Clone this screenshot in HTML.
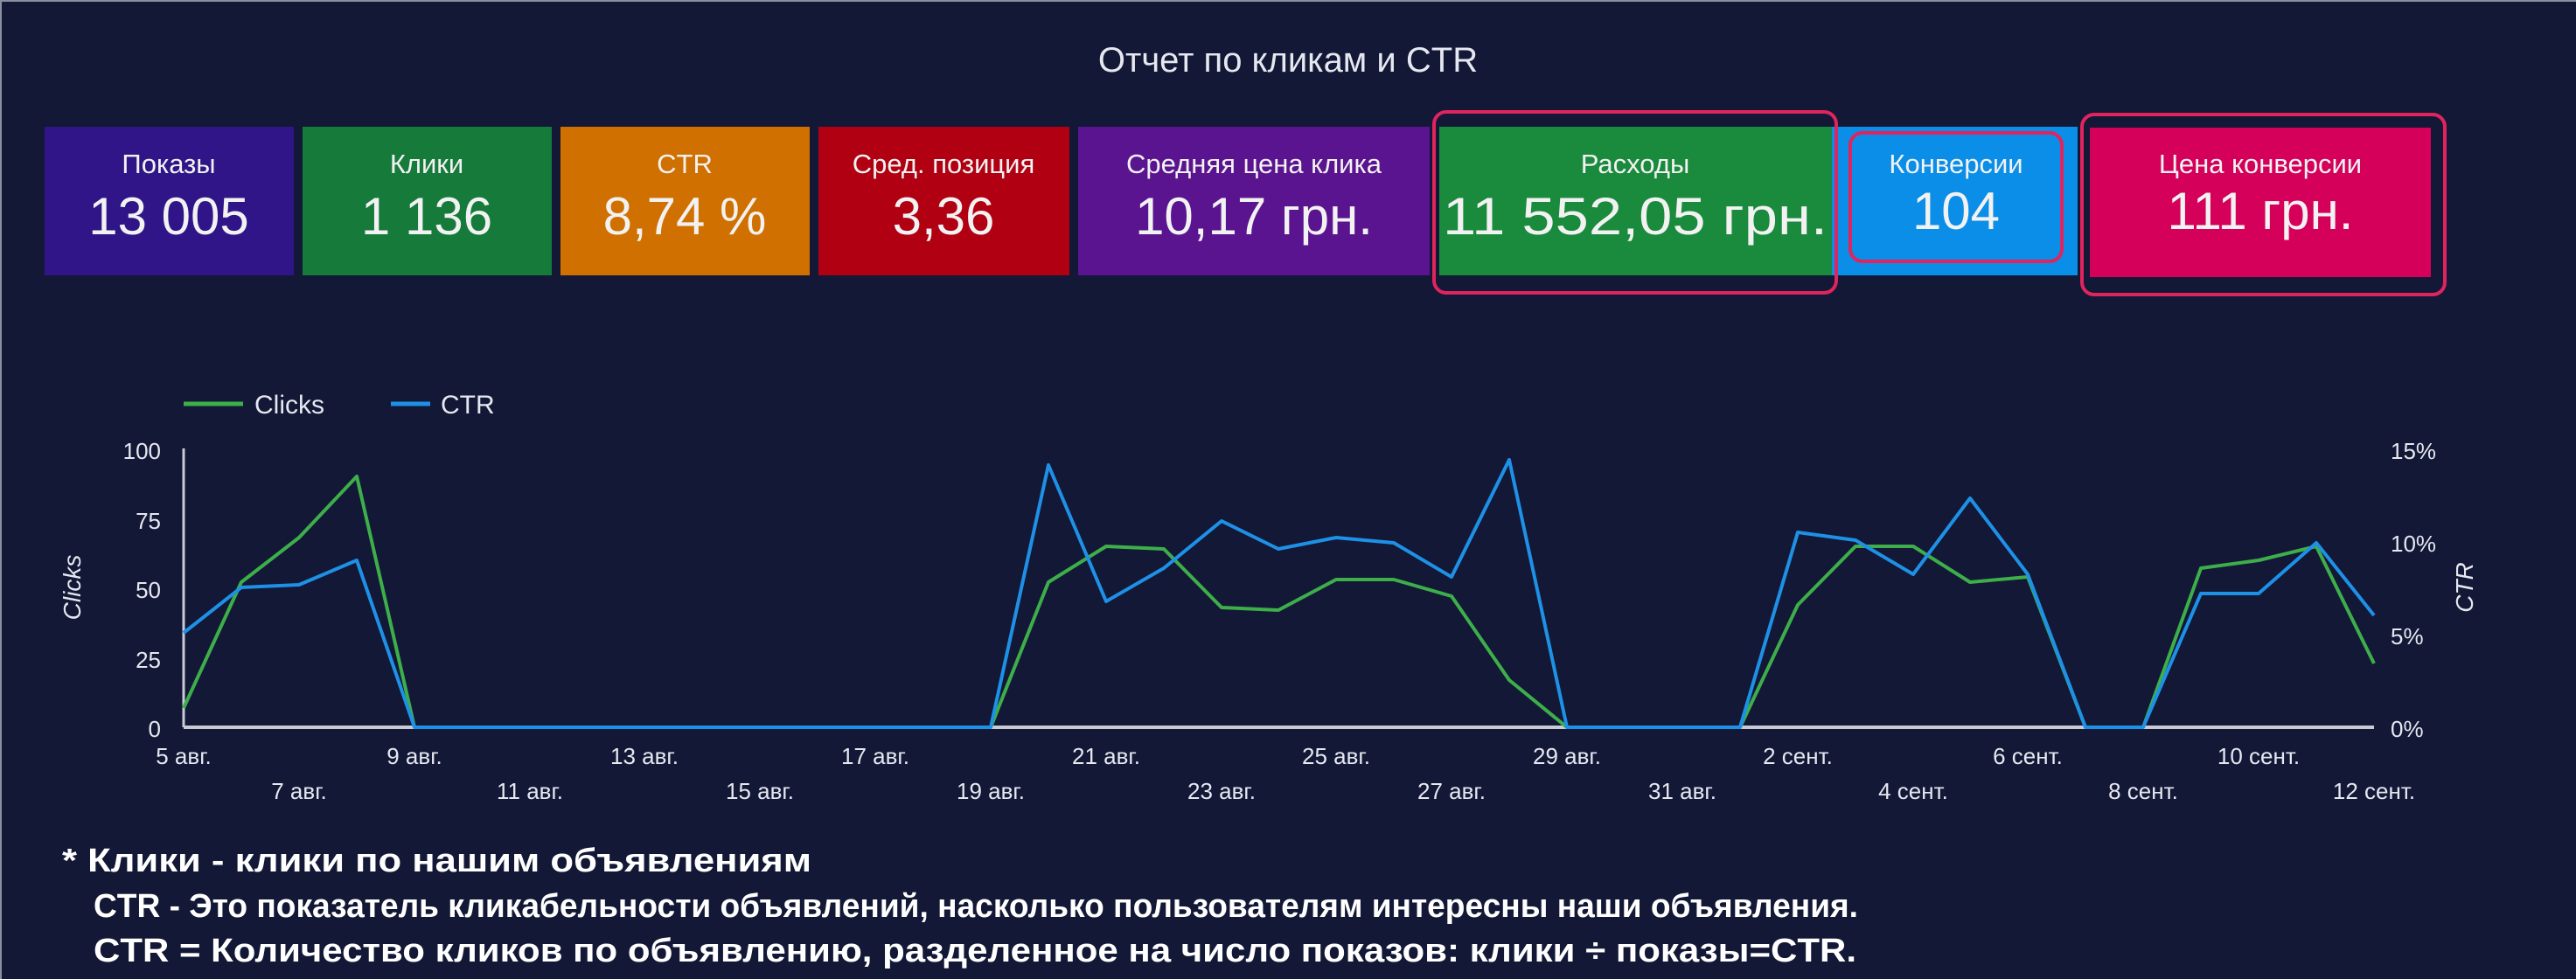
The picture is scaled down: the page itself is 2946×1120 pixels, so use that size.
<!DOCTYPE html>
<html><head><meta charset="utf-8"><style>html,body{margin:0;padding:0;background:#121836;}svg{display:block}</style></head>
<body>
<svg width="2946" height="1120" viewBox="0 0 2946 1120" xmlns="http://www.w3.org/2000/svg" font-family="Liberation Sans, sans-serif">
<rect width="2946" height="1120" fill="#121836"/>
<rect x="0" y="0" width="2946" height="2" fill="#8a8fa0"/>
<rect x="0" y="0" width="2" height="1120" fill="#8a8fa0"/>
<text x="1473" y="82" fill="#e6e8f0" font-size="40" text-anchor="middle">Отчет по кликам и CTR</text>
<g text-anchor="middle" fill="#f2f2f2">
<rect x="51" y="145" width="285" height="170" fill="#2f1587"/>
<text x="193" y="198" font-size="31">Показы</text><text x="193" y="268" font-size="60">13 005</text>
<rect x="346" y="145" width="285" height="170" fill="#157a3a"/>
<text x="488" y="198" font-size="31">Клики</text><text x="488" y="268" font-size="60">1 136</text>
<rect x="641" y="145" width="285" height="170" fill="#d07000"/>
<text x="783" y="198" font-size="31">CTR</text><text x="783" y="268" font-size="60">8,74 %</text>
<rect x="936" y="145" width="287" height="170" fill="#b00012"/>
<text x="1079" y="198" font-size="31">Сред. позиция</text><text x="1079" y="268" font-size="60">3,36</text>
<rect x="1233" y="145" width="402" height="170" fill="#5a1490"/>
<text x="1434" y="198" font-size="31">Средняя цена клика</text><text x="1434" y="268" font-size="60">10,17 грн.</text>
<rect x="1646" y="145" width="449" height="170" fill="#1a8a3c"/>
<text x="1870" y="198" font-size="31">Расходы</text><text x="1870" y="268" font-size="60" textLength="440" lengthAdjust="spacingAndGlyphs">11 552,05 грн.</text>
<rect x="2095" y="145" width="281" height="170" fill="#0a8ee8"/>
<text x="2237" y="198" font-size="31">Конверсии</text><text x="2237" y="262" font-size="60">104</text>
<rect x="2390" y="146" width="390" height="171" fill="#d4005a"/>
<text x="2585" y="198" font-size="31">Цена конверсии</text><text x="2585" y="262" font-size="60">111 грн.</text>
</g>
<g fill="none" stroke="#e0245e" stroke-width="4">
<rect x="1640" y="128" width="460" height="207" rx="14"/>
<rect x="2116" y="152" width="242" height="147" rx="14"/>
<rect x="2381" y="131" width="415" height="206" rx="14"/>
</g>
<line x1="210" y1="462" x2="278" y2="462" stroke="#3dae4a" stroke-width="5"/>
<text x="291" y="473" fill="#e6e8f0" font-size="30">Clicks</text>
<line x1="447" y1="462" x2="492" y2="462" stroke="#1e90e6" stroke-width="5"/>
<text x="504" y="473" fill="#e6e8f0" font-size="30">CTR</text>
<line x1="210" y1="513" x2="210" y2="832" stroke="#c8cad4" stroke-width="3"/>
<line x1="210" y1="832" x2="2715" y2="832" stroke="#c8cad4" stroke-width="4"/>
<g fill="#e6e8f0" font-size="26" text-anchor="end">
<text x="184" y="525">100</text><text x="184" y="605">75</text><text x="184" y="684">50</text><text x="184" y="764">25</text><text x="184" y="843">0</text>
</g>
<g fill="#e6e8f0" font-size="26">
<text x="2734" y="525">15%</text><text x="2734" y="631">10%</text><text x="2734" y="737">5%</text><text x="2734" y="843">0%</text>
</g>
<text transform="translate(92,672) rotate(-90)" fill="#e6e8f0" font-size="28" font-style="italic" text-anchor="middle">Clicks</text>
<text transform="translate(2828,672) rotate(-90)" fill="#e6e8f0" font-size="28" font-style="italic" text-anchor="middle">CTR</text>
<g fill="#e6e8f0" font-size="26" text-anchor="middle">
<text x="210" y="874">5 авг.</text><text x="474" y="874">9 авг.</text><text x="737" y="874">13 авг.</text><text x="1001" y="874">17 авг.</text><text x="1265" y="874">21 авг.</text><text x="1528" y="874">25 авг.</text><text x="1792" y="874">29 авг.</text><text x="2056" y="874">2 сент.</text><text x="2319" y="874">6 сент.</text><text x="2583" y="874">10 сент.</text>
<text x="342" y="914">7 авг.</text><text x="606" y="914">11 авг.</text><text x="869" y="914">15 авг.</text><text x="1133" y="914">19 авг.</text><text x="1397" y="914">23 авг.</text><text x="1660" y="914">27 авг.</text><text x="1924" y="914">31 авг.</text><text x="2188" y="914">4 сент.</text><text x="2451" y="914">8 сент.</text><text x="2715" y="914">12 сент.</text>
</g>
<polyline fill="none" stroke="#3dae4a" stroke-width="4" stroke-linejoin="round" points="210,810 276,666 342,615 408,545 474,832 1133,832 1199,666 1265,625 1331,628 1397,695 1462,698 1528,663 1594,663 1660,682 1726,778 1792,832 1990,832 2056,692 2122,625 2188,625 2253,666 2319,660 2385,832 2451,832 2517,650 2583,641 2649,625 2715,759"/>
<polyline fill="none" stroke="#1e90e6" stroke-width="4" stroke-linejoin="round" points="210,724 276,672 342,669 408,641 474,832 1133,832 1199,532 1265,688 1331,650 1397,596 1462,628 1528,615 1594,621 1660,660 1726,526 1792,832 1990,832 2056,609 2122,618 2188,657 2253,570 2319,657 2385,832 2451,832 2517,679 2583,679 2649,621 2715,704"/>
<g fill="#ffffff" font-size="38" font-weight="bold">
<text x="71" y="997" textLength="857" lengthAdjust="spacingAndGlyphs">* Клики - клики по нашим объявлениям</text>
<text x="107" y="1049" textLength="2018" lengthAdjust="spacingAndGlyphs">CTR - Это показатель кликабельности объявлений, насколько пользователям интересны наши объявления.</text>
<text x="107" y="1100" textLength="2016" lengthAdjust="spacingAndGlyphs">CTR = Количество кликов по объявлению, разделенное на число показов: клики ÷ показы=CTR.</text>
</g>
</svg>
</body></html>
